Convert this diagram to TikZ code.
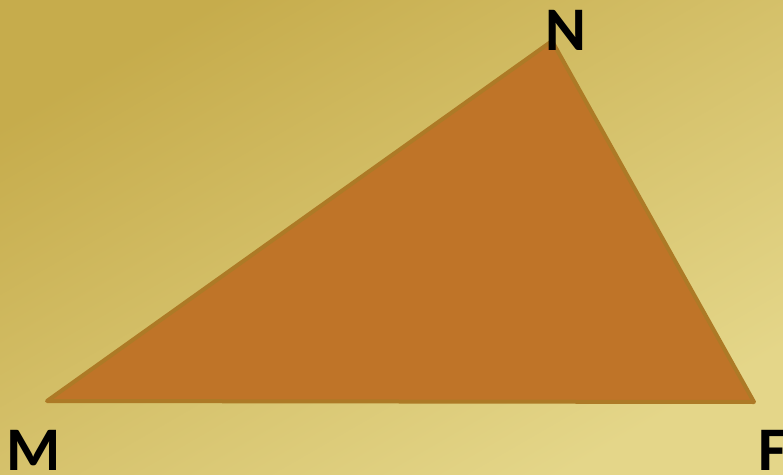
\documentclass[tikz,border=0pt]{standalone}
\usepackage{fontspec}
\setmainfont{Carlito}
\definecolor{bgdark}{HTML}{C6AC4C}
\definecolor{bglight}{HTML}{E4D689}
\definecolor{trifill}{HTML}{BF7428}
\definecolor{triedge}{HTML}{AD7A26}
\tikzset{
  vlabel/.style={font=\bfseries\fontsize{62}{62}\selectfont, inner sep=0pt, text=black},
  tri/.style={fill=trifill, draw=triedge, line width=4pt, line join=round}
}
\begin{document}
\begin{tikzpicture}[x=1pt,y=1pt]
\useasboundingbox (0,0) rectangle (783,474);
\shade[shading=axis, top color=bgdark, bottom color=bglight, shading angle=30] (0,0) rectangle (783,474);
\coordinate (M) at (47,73);
\coordinate (N) at (552,433);
\coordinate (F) at (754,72);
\draw[tri] (M) -- (N) -- (F) -- cycle;
\node[vlabel] (lM) at (34,24) {M};
\node[vlabel] (lN) at (566,444) {N};
\node[vlabel, anchor=west] (lF) at (758,24) {F};
\end{tikzpicture}
\end{document}
